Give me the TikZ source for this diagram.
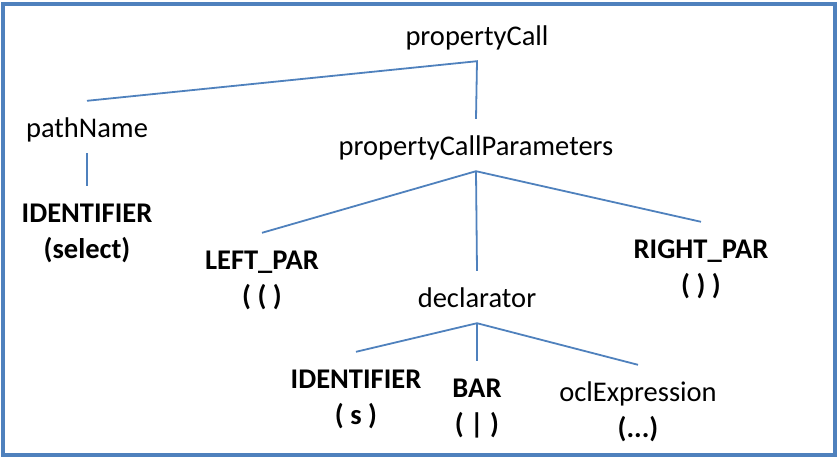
\documentclass[tikz,border=0pt]{standalone}
\usepackage{fontspec}
\setmainfont{Carlito}
\definecolor{treeblue}{HTML}{4F81BD}
\tikzset{
  word/.style={anchor=base, inner xsep=2pt, inner ysep=9pt, text height=27pt, text depth=7pt,
    font=\fontsize{28.5}{34}\selectfont},
  nonterm/.style={word},
  term/.style={word, font=\fontsize{28.5}{34}\selectfont\bfseries},
  branch/.style={draw=treeblue, line width=1.8pt},
}
\begin{document}
\begin{tikzpicture}[x=1pt, y=-1pt]
  \useasboundingbox (0,0) rectangle (838,463);
  \draw[treeblue, line width=4pt] (3,3.5) rectangle (835,454.5);
  % nodes
  \node[nonterm] (pcall) at (477,45) {propertyCall};
  \node[nonterm] (pname) at (87,137) {pathName};
  \node[term] (ident) at (87,222) {IDENTIFIER};
  \node[term] (identval) at (87,258) {(select)};
  \node[nonterm] (pcparams) at (476,155) {propertyCallParameters};
  \node[term] (leftpar) at (262,269) {LEFT\_PAR};
  \node[term] (leftparval) at (262,305) {( ( )};
  \node[term] (rightpar) at (701,258) {RIGHT\_PAR};
  \node[term] (rightparval) at (701,294) {( ) )};
  \node[nonterm] (decl) at (477,307) {declarator};
  \node[term] (dident) at (356,388) {IDENTIFIER};
  \node[term] (didentval) at (356,424) {( s )};
  \node[term] (bar) at (477,397) {BAR};
  \node[term] (barval) at (477,433) {( | )};
  \node[nonterm] (oclexpr) at (638,401) {oclExpression};
  \node[term] (oclexprval) at (638,437) {(...)};
  % branches
  \draw[branch] (pname.north) -- (pcall.south) -- (pcparams.north);
  \draw[branch] (pname.south) -- (ident.north);
  \draw[branch] (leftpar.north) -- (pcparams.south) -- (rightpar.north);
  \draw[branch] (pcparams.south) -- (decl.north);
  \draw[branch] (dident.north) -- (decl.south) -- (oclexpr.north);
  \draw[branch] (decl.south) -- (bar.north);
\end{tikzpicture}
\end{document}
